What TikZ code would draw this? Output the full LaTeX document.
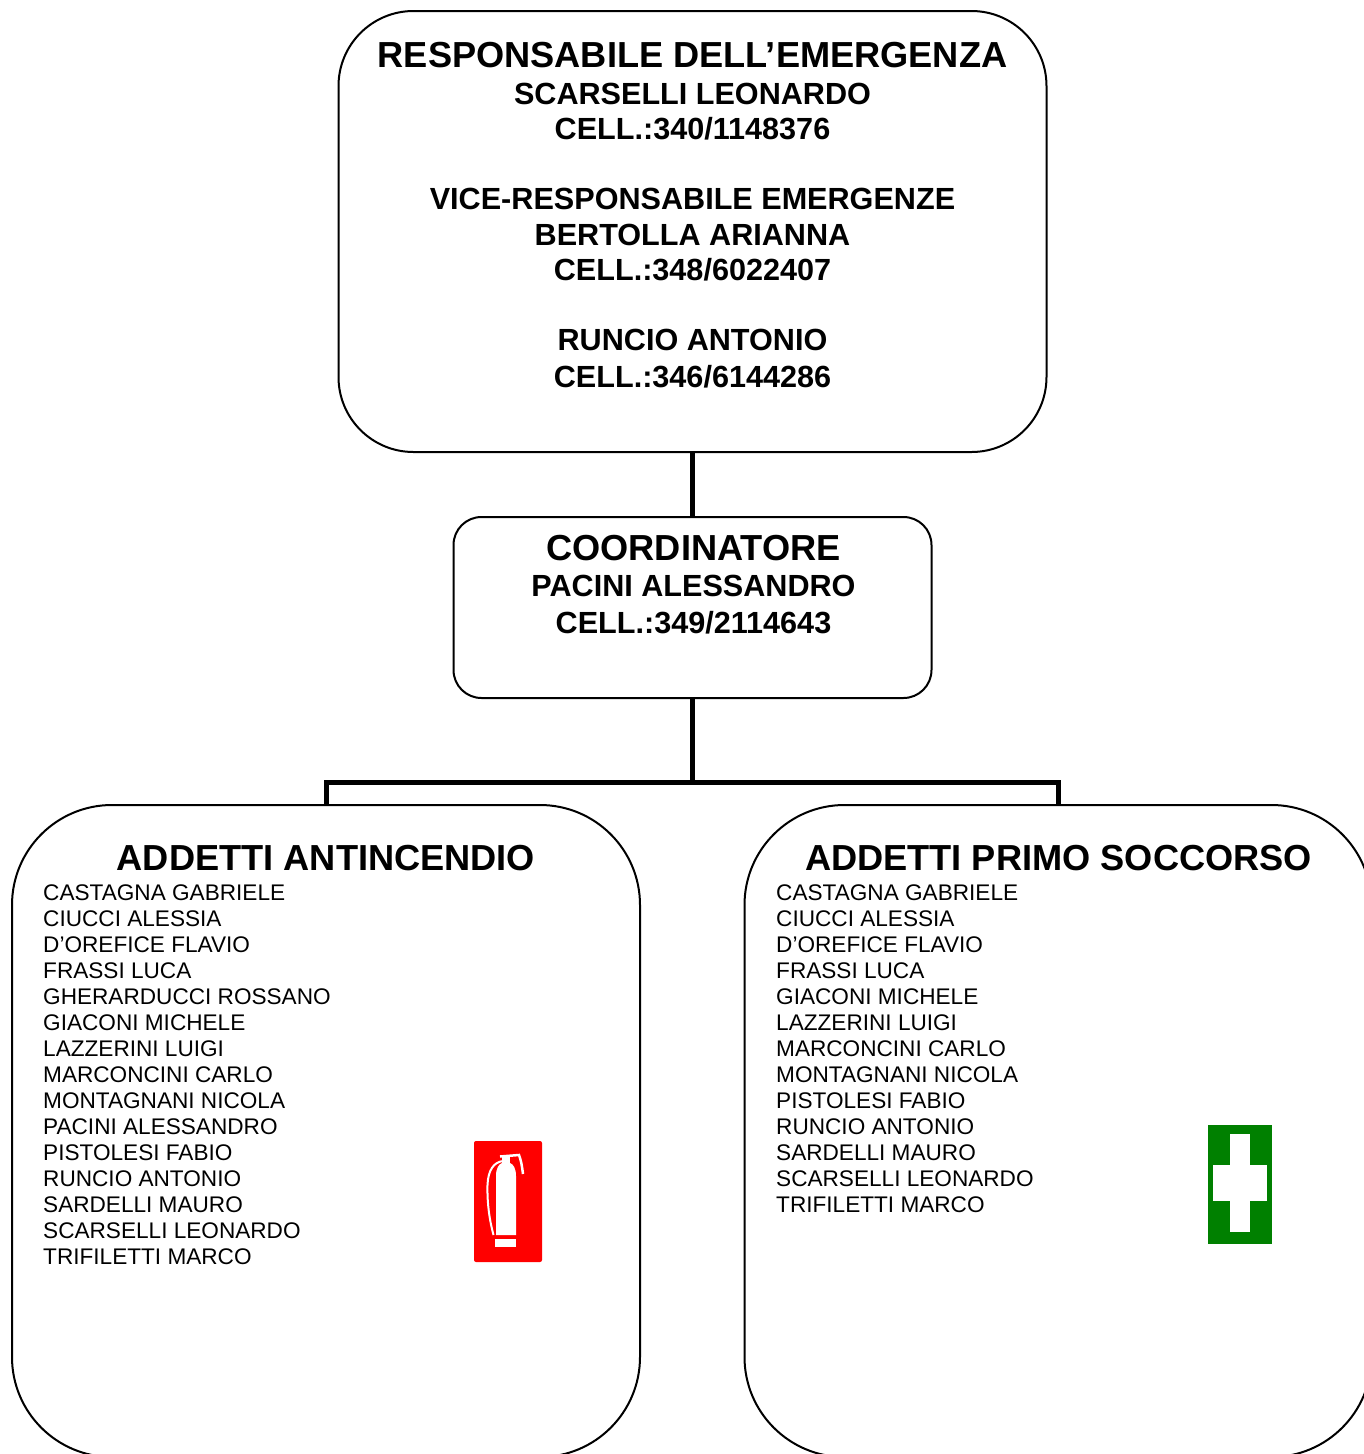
\documentclass[tikz,border=0pt]{standalone}
\usepackage{fontspec}
\setmainfont{Liberation Sans}
\definecolor{fagreen}{RGB}{0,128,0}
\definecolor{fired}{RGB}{255,0,0}
\begin{document}
\begin{tikzpicture}[x=1pt,y=-1pt,
  box/.style={draw=black, line width=2pt, inner sep=0pt, fill=white},
  conn/.style={draw=black, line width=5pt},
  ttl/.style={font=\bfseries\fontsize{36.2}{41}\selectfont, anchor=base, inner sep=0pt},
  sub/.style={font=\bfseries\fontsize{30.6}{35}\selectfont, anchor=base, inner sep=0pt},
  nm/.style={font=\fontsize{22.6}{26}\selectfont, anchor=base west, inner sep=0pt}]
\useasboundingbox (0,0) rectangle (1364,1454);
\fill[white] (0,0) rectangle (1364,1454);

\coordinate (bus) at (692.5,782.5);

% boxes
\node[box, rounded corners=75pt, minimum width=708pt, minimum height=441pt] (resp) at (692.5,231.5) {};
\node[box, rounded corners=28pt, minimum width=478pt, minimum height=181pt] (coord) at (692.5,607.5) {};
\node[box, rounded corners=100pt, minimum width=628pt, minimum height=652pt] (left) at (326,1131) {};
\node[box, rounded corners=100pt, minimum width=627pt, minimum height=652pt] (right) at (1058,1131) {};

% connectors
\draw[conn] (resp.south) -- (coord.north);
\draw[conn] (coord.south) -- (bus);
\draw[conn, line join=miter] (left.north) -- (left.north |- bus) -- (right.north |- bus) -- (right.north);

% top box text
\node[ttl] (t1) at (692.5,67) {RESPONSABILE DELL’EMERGENZA};
\node[sub] (t2) at (692.5,104) {SCARSELLI LEONARDO};
\node[sub] (t3) at (692.5,139.5) {CELL.:340/1148376};
\node[sub] (t4) at (692.5,209.5) {VICE-RESPONSABILE EMERGENZE};
\node[sub] (t5) at (692.5,245.5) {BERTOLLA ARIANNA};
\node[sub] (t6) at (692.5,280.5) {CELL.:348/6022407};
\node[sub] (t7) at (692.5,350.5) {RUNCIO ANTONIO};
\node[sub] (t8) at (692.5,387.5) {CELL.:346/6144286};

% coordinator text
\node[ttl] (c1) at (693.5,560) {COORDINATORE};
\node[sub] (c2) at (693.5,596.5) {PACINI ALESSANDRO};
\node[sub] (c3) at (693.5,633.5) {CELL.:349/2114643};

% bottom titles
\node[ttl] (lt) at (326,870.5) {ADDETTI ANTINCENDIO};
\node[ttl] (rt) at (1058.5,870.5) {ADDETTI PRIMO SOCCORSO};

% name lists
\foreach \n [count=\i] in {CASTAGNA GABRIELE, CIUCCI ALESSIA, D’OREFICE FLAVIO, FRASSI LUCA, GHERARDUCCI ROSSANO, GIACONI MICHELE, LAZZERINI LUIGI, MARCONCINI CARLO, MONTAGNANI NICOLA, PACINI ALESSANDRO, PISTOLESI FABIO, RUNCIO ANTONIO, SARDELLI MAURO, SCARSELLI LEONARDO, TRIFILETTI MARCO}
  \node[nm] (l\i) at (43,{900+26.07*(\i-1)}) {\n};
\foreach \n [count=\i] in {CASTAGNA GABRIELE, CIUCCI ALESSIA, D’OREFICE FLAVIO, FRASSI LUCA, GIACONI MICHELE, LAZZERINI LUIGI, MARCONCINI CARLO, MONTAGNANI NICOLA, PISTOLESI FABIO, RUNCIO ANTONIO, SARDELLI MAURO, SCARSELLI LEONARDO, TRIFILETTI MARCO}
  \node[nm] (r\i) at (776,{900+26.07*(\i-1)}) {\n};

% fire extinguisher sign
\fill[fired, rounded corners=2pt] (474,1141) rectangle (542,1262);
\fill[white] (496,1235) -- (496,1176) .. controls (496,1168) and (499,1164) .. (502,1163) -- (510,1163) .. controls (513,1164) and (516,1168) .. (516,1176) -- (516,1235) -- cycle;
\fill[white] (502,1156) rectangle (510,1164);
\draw[white, line width=2.5pt] (500,1156.5) -- (519,1155) .. controls (521,1160) and (522,1166) .. (523,1174);
\draw[white, line width=2pt] (503,1161) .. controls (494,1162) and (488,1170) .. (487.5,1185) .. controls (487,1205) and (490,1222) .. (493.5,1235);
\fill[white] (495,1238.5) rectangle (516,1246.5);

% first aid sign
\fill[fagreen] (1207.5,1125) rectangle (1271.5,1243.5);
\fill[white] (1230,1134) rectangle (1250,1231.5);
\fill[white] (1212.5,1164.5) rectangle (1266.5,1200.5);
\end{tikzpicture}
\end{document}
